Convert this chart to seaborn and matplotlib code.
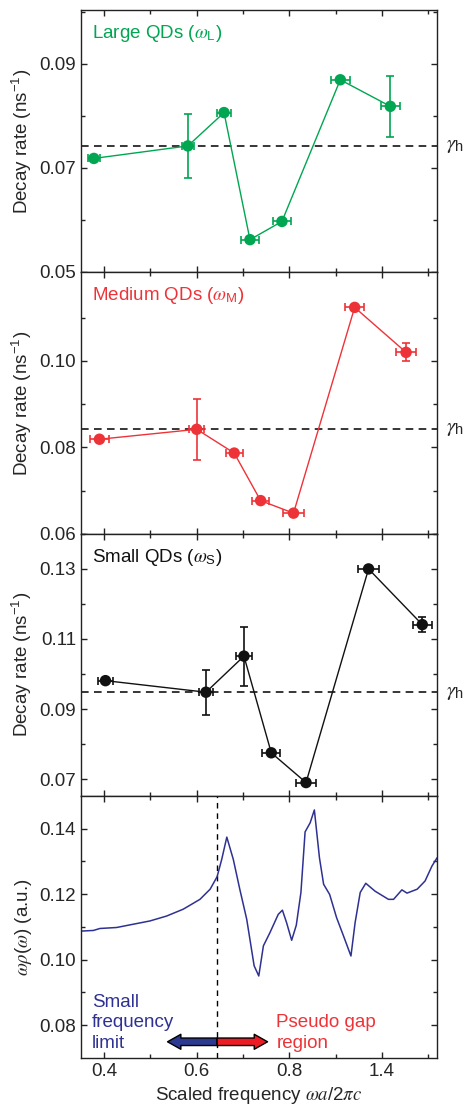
import numpy as np
import pandas as pd
import matplotlib
matplotlib.use('Agg')
import matplotlib.pyplot as plt
import seaborn as sns

# decay-rate data (x, y, xerr, yerr)
large_x = [0.378, 0.581, 0.659, 0.715, 0.784, 0.910, 1.018]
large_y = [0.0718, 0.0742, 0.0806, 0.0562, 0.0597, 0.0869, 0.0818]
large_xerr = [0.013, 0.013, 0.016, 0.020, 0.020, 0.021, 0.021]
large_yerr = [0.0, 0.0062, 0.0, 0.0, 0.0, 0.0, 0.0058]
large_gamma = 0.0742

medium_x = [0.390, 0.600, 0.681, 0.738, 0.809, 0.941, 1.052]
medium_y = [0.0819, 0.0842, 0.0787, 0.0677, 0.0648, 0.1124, 0.1020]
medium_xerr = [0.020, 0.016, 0.018, 0.019, 0.022, 0.020, 0.021]
medium_yerr = [0.0, 0.0070, 0.0, 0.0, 0.0, 0.0, 0.0021]
medium_gamma = 0.0843

small_x = [0.403, 0.620, 0.702, 0.761, 0.836, 0.971, 1.087]
small_y = [0.0981, 0.0948, 0.1051, 0.0775, 0.0690, 0.1300, 0.1141]
small_xerr = [0.0155, 0.016, 0.018, 0.019, 0.0216, 0.022, 0.021]
small_yerr = [0.0, 0.0064, 0.0084, 0.0, 0.0, 0.0, 0.0021]
small_gamma = 0.0948

# LDOS curve
ldos_x = [0.350, 0.377, 0.391, 0.427, 0.463, 0.499, 0.535, 0.571, 0.607, 0.629,
          0.644, 0.654, 0.665, 0.679, 0.693, 0.708, 0.724, 0.734, 0.744, 0.758,
          0.776, 0.785, 0.794, 0.805, 0.815, 0.825, 0.834, 0.845, 0.854, 0.865,
          0.874, 0.887, 0.902, 0.917, 0.933, 0.942, 0.953, 0.965, 0.985, 1.014,
          1.025, 1.043, 1.054, 1.076, 1.093, 1.108, 1.119]
ldos_y = [0.1087, 0.1089, 0.1095, 0.1098, 0.1108, 0.1118, 0.1133, 0.1154, 0.1184, 0.1215,
          0.1253, 0.1306, 0.1374, 0.1306, 0.1215, 0.1123, 0.0981, 0.0950, 0.1042, 0.1082,
          0.1138, 0.1151, 0.1113, 0.1059, 0.1105, 0.1205, 0.1390, 0.1418, 0.1457, 0.1311,
          0.1230, 0.1199, 0.1128, 0.1072, 0.1011, 0.1113, 0.1205, 0.1233, 0.1209, 0.1184,
          0.1184, 0.1213, 0.1203, 0.1215, 0.1240, 0.1286, 0.1311]
edge_freq = 0.644

x_ticks = [0.4, 0.6, 0.8, 1.0]
x_ticklabels = ['0.4', '0.6', '0.8', '1.4']

sns.set_theme(style='ticks')
plt.rcParams['font.family'] = ['Liberation Sans', 'DejaVu Sans']
plt.rcParams['mathtext.fontset'] = 'custom'
plt.rcParams['mathtext.rm'] = 'Liberation Sans'
plt.rcParams['mathtext.sf'] = 'Liberation Sans'
plt.rcParams['mathtext.it'] = 'STIXGeneral:italic'

green = '#00a651'
red = '#ee3338'
black = '#111111'
navy = '#2e3192'

fig, axes = plt.subplots(4, 1, figsize=(4.65, 11.1), dpi=100, sharex=True)
fig.subplots_adjust(left=0.174, right=0.940, top=0.991, bottom=0.047, hspace=0)

panels = [
    (large_x, large_y, large_xerr, large_yerr, large_gamma, green,
     'Large QDs ($\\omega_{\\mathrm{L}}$)', (0.05, 0.1003),
     [0.05, 0.07, 0.09], [0.06, 0.08, 0.10]),
    (medium_x, medium_y, medium_xerr, medium_yerr, medium_gamma, red,
     'Medium QDs ($\\omega_{\\mathrm{M}}$)', (0.06, 0.1206),
     [0.06, 0.08, 0.10], [0.07, 0.09, 0.11]),
    (small_x, small_y, small_xerr, small_yerr, small_gamma, black,
     'Small QDs ($\\omega_{\\mathrm{S}}$)', (0.0652, 0.1399),
     [0.07, 0.09, 0.11, 0.13], [0.08, 0.10, 0.12, 0.14]),
]

for ax, (xs, ys, xe, ye, gam, col, label, ylim, maj, mnr) in zip(axes[:3], panels):
    df = pd.DataFrame({'x': xs, 'y': ys, 'xerr': xe, 'yerr': ye})
    ax.axhline(gam, color='black', lw=1.1, ls=(0, (5, 3.5)), zorder=1)
    sns.lineplot(data=df, x='x', y='y', color=col, lw=1.0, sort=False, ax=ax, zorder=2)
    ax.errorbar(df['x'], df['y'], xerr=df['xerr'], fmt='none', ecolor=col,
                elinewidth=1.2, capsize=3, capthick=1.2, zorder=3)
    sub = df[df['yerr'] > 0]
    ax.errorbar(sub['x'], sub['y'], yerr=sub['yerr'], fmt='none', ecolor=col,
                elinewidth=1.2, capsize=3, capthick=1.2, zorder=3)
    sns.scatterplot(data=df, x='x', y='y', color=col, s=68, edgecolor='none',
                    ax=ax, zorder=4)
    ax.set_ylim(*ylim)
    ax.set_yticks(maj)
    ax.set_yticks(mnr, minor=True)
    ax.set_yticklabels([f'{v:.2f}' for v in maj])
    ax.set_ylabel('Decay rate (ns$^{-1}$)', fontsize=13.5)
    ax.text(0.03, 0.91, label, transform=ax.transAxes, color=col,
            fontsize=13.5, va='center', ha='left')
    ax.text(1.025, gam, '$\\gamma_{\\mathrm{h}}$', transform=ax.get_yaxis_transform(),
            fontsize=15, va='center', ha='left')

# bottom panel: LDOS
ax = axes[3]
ldos = pd.DataFrame({'x': ldos_x, 'y': ldos_y})
sns.lineplot(data=ldos, x='x', y='y', color=navy, lw=1.1, sort=False, ax=ax)
ax.axvline(edge_freq, color='black', lw=1.0, ls=(0, (4, 3.5)), zorder=1)
ax.set_ylim(0.070, 0.150)
ax.set_yticks([0.08, 0.10, 0.12, 0.14])
ax.set_yticks([0.09, 0.11, 0.13], minor=True)
ax.set_yticklabels(['0.08', '0.10', '0.12', '0.14'])
ax.set_ylabel('$\\omega\\rho(\\omega)$ (a.u.)', fontsize=13.5)

arrow_y = 0.0749
ax.annotate('', xy=(0.537, arrow_y), xytext=(edge_freq, arrow_y),
            arrowprops=dict(arrowstyle='simple,head_width=0.9,head_length=0.8,tail_width=0.45',
                            fc='#2b3990', ec='black', lw=1.0, shrinkA=0, shrinkB=0))
ax.annotate('', xy=(0.753, arrow_y), xytext=(edge_freq, arrow_y),
            arrowprops=dict(arrowstyle='simple,head_width=0.9,head_length=0.8,tail_width=0.45',
                            fc='#ed1c24', ec='black', lw=1.0, shrinkA=0, shrinkB=0))
ax.text(0.374, 0.0731, 'Small\nfrequency\nlimit', color='#2e3192', fontsize=13.5,
        va='baseline', ha='left', linespacing=1.25)
ax.text(0.772, 0.0731, 'Pseudo gap\nregion', color='#ee3338', fontsize=13.5,
        va='baseline', ha='left', linespacing=1.25)

ax.set_xlim(0.350, 1.119)
ax.set_xticks(x_ticks)
ax.set_xticks([0.5, 0.7, 0.9, 1.1], minor=True)
ax.set_xticklabels(x_ticklabels)
ax.set_xlabel('Scaled frequency $\\omega a/2\\pi c$', fontsize=13.5)

for a in axes:
    a.tick_params(which='both', direction='in', top=True, right=True,
                  labelsize=13.5, width=1.0, color='#222222')
    a.tick_params(which='major', length=4.5)
    a.tick_params(which='minor', length=3)
    for s in a.spines.values():
        s.set_linewidth(1.0)
        s.set_color('#222222')
for a in axes[:3]:
    a.set_xlabel('')

fig.align_ylabels(axes)
fig.savefig('out.png', dpi=100)
